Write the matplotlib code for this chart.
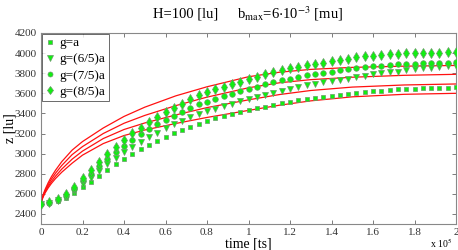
import matplotlib
matplotlib.use("Agg")
import matplotlib.pyplot as plt

plt.rcParams['font.family'] = ['Liberation Serif', 'DejaVu Serif']
plt.rcParams['mathtext.fontset'] = 'stix'

# time in units of 1e5 ts
t_pts = [0.00, 0.04, 0.08, 0.12, 0.16, 0.20, 0.24, 0.28, 0.32, 0.36,
         0.40, 0.44, 0.48, 0.52, 0.56, 0.60, 0.64, 0.68, 0.72, 0.76,
         0.80, 0.84, 0.88, 0.92, 0.96, 1.00, 1.04, 1.08, 1.12, 1.16,
         1.20, 1.24, 1.28, 1.32, 1.36, 1.40, 1.44, 1.48, 1.52, 1.56,
         1.60, 1.64, 1.68, 1.72, 1.76, 1.80, 1.84, 1.88, 1.92, 1.96, 2.00]

z_g1 = [2500, 2510, 2530, 2559, 2605, 2665, 2721, 2781, 2840, 2897,
        2950, 3000, 3045, 3088, 3128, 3165, 3202, 3235, 3265, 3295,
        3325, 3351, 3375, 3398, 3416, 3432, 3451, 3467, 3487, 3504,
        3517, 3531, 3544, 3557, 3567, 3577, 3588, 3598, 3607, 3615,
        3622, 3628, 3634, 3639, 3643, 3647, 3650, 3653, 3655, 3657, 3659]

z_g65 = [2500, 2511, 2535, 2570, 2625, 2700, 2762, 2830, 2897, 2954,
         3013, 3066, 3120, 3163, 3209, 3252, 3290, 3327, 3362, 3395,
         3420, 3447, 3474, 3497, 3524, 3545, 3564, 3584, 3607, 3627,
         3647, 3663, 3680, 3696, 3708, 3720, 3733, 3746, 3763, 3775,
         3788, 3798, 3808, 3816, 3830, 3840, 3848, 3856, 3862, 3868, 3873]

z_g75 = [2500, 2513, 2540, 2583, 2648, 2735, 2800, 2880, 2950, 3013,
         3079, 3136, 3192, 3242, 3290, 3335, 3377, 3417, 3455, 3492,
         3517, 3544, 3570, 3597, 3620, 3643, 3666, 3690, 3710, 3730,
         3746, 3763, 3780, 3790, 3803, 3816, 3830, 3843, 3855, 3863,
         3870, 3876, 3882, 3887, 3891, 3895, 3898, 3901, 3903, 3905, 3907]

z_g85 = [2500, 2514, 2545, 2595, 2668, 2761, 2837, 2920, 2996, 3066,
         3136, 3202, 3255, 3310, 3362, 3410, 3455, 3497, 3540, 3580,
         3610, 3638, 3665, 3692, 3717, 3742, 3766, 3790, 3813, 3833,
         3850, 3866, 3880, 3893, 3906, 3920, 3933, 3946, 3958, 3967,
         3975, 3982, 3988, 3993, 3997, 4000, 4002, 4004, 4006, 4007, 4008]

# model curves (red lines)
t_line = [0.000, 0.005, 0.010, 0.020, 0.035, 0.050, 0.070, 0.100, 0.150,
          0.200, 0.300, 0.400, 0.500, 0.650, 0.800, 1.000, 1.150, 1.300,
          1.500, 1.750, 2.000]
line_1 = [2500, 2540, 2568, 2610, 2660, 2703, 2752, 2815, 2905,
          2985, 3100, 3180, 3235, 3300, 3360, 3430, 3482, 3525,
          3565, 3590, 3600]
line_2 = [2500, 2545, 2575, 2620, 2675, 2722, 2776, 2846, 2945,
          3025, 3150, 3240, 3305, 3385, 3458, 3535, 3588, 3628,
          3662, 3683, 3693]
line_3 = [2500, 2550, 2582, 2632, 2693, 2746, 2805, 2882, 2990,
          3070, 3200, 3302, 3380, 3478, 3562, 3655, 3705, 3736,
          3760, 3779, 3789]
line_4 = [2500, 2555, 2590, 2645, 2712, 2770, 2835, 2920, 3035,
          3120, 3255, 3370, 3462, 3575, 3665, 3765, 3810, 3838,
          3858, 3870, 3877]

labels = ["g=a", "g=(6/5)a", "g=(7/5)a", "g=(8/5)a"]
markers = ["s", "v", "o", "d"]
sizes = [3.2, 4.2, 4.0, 4.8]

x_ticks = [0, 0.2, 0.4, 0.6, 0.8, 1.0, 1.2, 1.4, 1.6, 1.8, 2.0]
x_ticklabels = ["0", "0.2", "0.4", "0.6", "0.8", "1", "1.2", "1.4", "1.6", "1.8", "2"]
y_ticks = [2400, 2600, 2800, 3000, 3200, 3400, 3600, 3800, 4000, 4200]

fig = plt.figure(figsize=(4.58, 2.5), dpi=100)
ax = fig.add_axes([41/458, 1-224/250, (456-41)/458, (224-33)/250])

for zl in [line_1, line_2, line_3, line_4]:
    ax.plot(t_line, zl, color='#ff1111', lw=0.9, zorder=2)

for z, lab, m, s in zip([z_g1, z_g65, z_g75, z_g85], labels, markers, sizes):
    ax.plot(t_pts, z, linestyle='none', marker=m, ms=s, mfc='#11ee11',
            mec='#6a9a6a', mew=0.5, label=lab, zorder=3)

ax.set_xlim(0, 2)
ax.set_ylim(2300, 4200)
ax.set_xticks(x_ticks)
ax.set_xticklabels(x_ticklabels)
ax.set_yticks(y_ticks)
ax.tick_params(direction='in', length=3, width=0.6, colors='#666666',
               labelcolor='#333333', labelsize=8, top=True, right=True, pad=3)
for sp in ax.spines.values():
    sp.set_color('#888888')
    sp.set_linewidth(0.8)

ax.set_xlabel("time [ts]", fontsize=10, labelpad=0)
ax.set_ylabel("z [lu]", fontsize=10)
ax.yaxis.set_label_coords(-0.058, 0.5)
fig.text(0.962, 0.028, r"x 10$^5$", fontsize=7, ha='center', va='center')

fig.text(186/458, 0.945, "H=100 [lu]", fontsize=10.5, ha='center', va='center')
fig.text(237/458, 0.945, r"b$_{\rm max}$=6$\cdot$10$^{-3}$ [mu]",
         fontsize=10.5, ha='left', va='center')

leg = ax.legend(loc='upper left', fontsize=9.5, frameon=True, fancybox=False,
                borderpad=0.25, labelspacing=0.3, handlelength=0.7,
                handletextpad=0.4, borderaxespad=0.05, markerscale=0.9)
leg.get_frame().set_edgecolor('#444444')
leg.get_frame().set_linewidth(0.7)

fig.savefig("out.png", dpi=100)
